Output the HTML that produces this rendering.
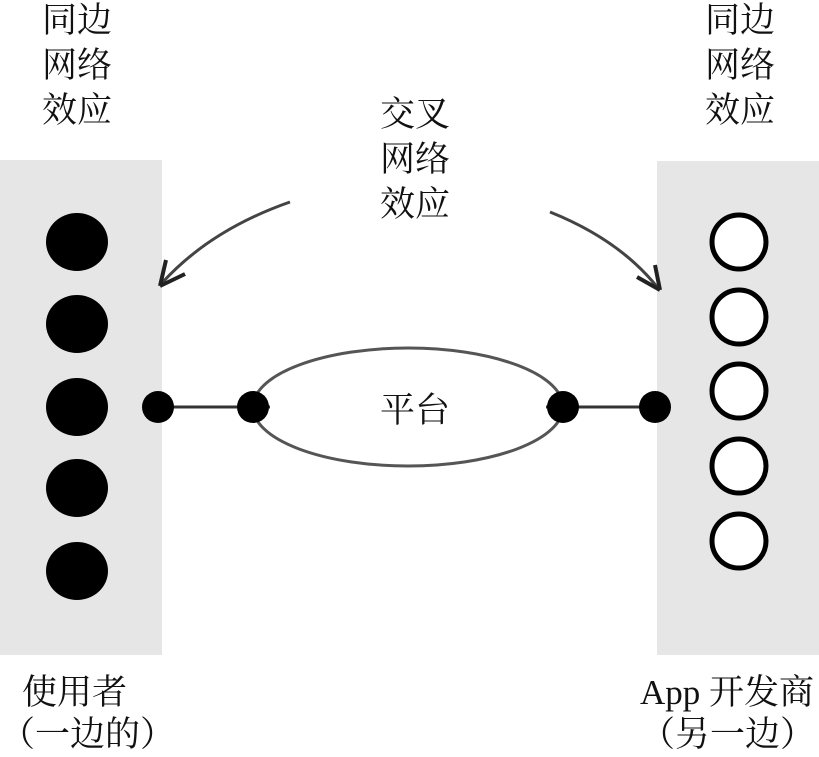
<!DOCTYPE html>
<html><head><meta charset="utf-8"><style>
body{margin:0;width:819px;height:752px;background:#fff;position:relative;overflow:hidden;font-family:"Liberation Serif","Noto Serif CJK SC",serif;color:#111}
.t{position:absolute;font-size:35px;line-height:45px;white-space:nowrap}
</style></head><body>
<svg width="819" height="752" style="position:absolute;left:0;top:0">
<rect x="0" y="160" width="162" height="495" fill="#e6e6e6"/>
<rect x="657" y="161" width="162" height="494" fill="#e6e6e6"/>
<g fill="#000">
<ellipse cx="77" cy="242" rx="31" ry="29"/>
<ellipse cx="77" cy="324" rx="31" ry="29"/>
<ellipse cx="77" cy="407" rx="31" ry="29"/>
<ellipse cx="77" cy="488" rx="31" ry="29"/>
<ellipse cx="77" cy="571" rx="31" ry="29"/>
</g>
<g fill="#fff" stroke="#000" stroke-width="5">
<circle cx="739" cy="242" r="27"/>
<circle cx="739" cy="317" r="27"/>
<circle cx="739" cy="391" r="27"/>
<circle cx="739" cy="466" r="27"/>
<circle cx="739" cy="541" r="27"/>
</g>
<ellipse cx="408" cy="407" rx="155" ry="59" fill="none" stroke="#555" stroke-width="3"/>
<line x1="158" y1="407" x2="655" y2="407" stroke="#333" stroke-width="3" />
<rect x="270" y="390" width="276" height="34" fill="#fff"/>
<g fill="#000">
<circle cx="158" cy="407" r="16"/><circle cx="253" cy="407" r="16"/>
<circle cx="563" cy="407" r="16"/><circle cx="655" cy="407" r="16"/>
</g>
<path d="M290 202 Q210 230 162 283" fill="none" stroke="#444" stroke-width="3"/>
<path d="M160 286 L166 260 M160 286 L185 274" stroke="#222" stroke-width="4" fill="none"/>
<path d="M550 212 Q620 240 658 288" fill="none" stroke="#444" stroke-width="3"/>
<path d="M660 290 L637 277 M660 290 L655 265" stroke="#222" stroke-width="4" fill="none"/>
</svg>
<div class="t" style="left:42px;top:-2px">同边<br>网络<br>效应</div>
<div class="t" style="left:705px;top:-2px">同边<br>网络<br>效应</div>
<div class="t" style="left:380px;top:92px">交叉<br>网络<br>效应</div>
<div class="t" style="left:380px;top:388px">平台</div>
<div class="t" style="left:22px;top:670px">使用者</div>
<div class="t" style="left:0px;top:712px">（一边的）</div>
<div class="t" style="left:640px;top:670px">App 开发商</div>
<div class="t" style="left:640px;top:712px">（另一边）</div>
</body></html>
